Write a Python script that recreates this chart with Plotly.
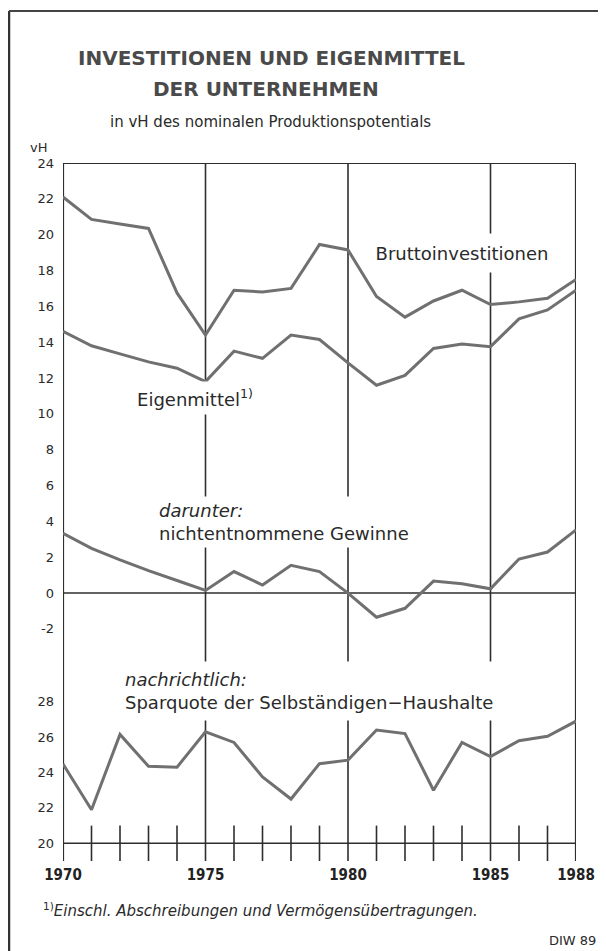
import plotly.graph_objects as go

years = [1970, 1971, 1972, 1973, 1974, 1975, 1976, 1977, 1978, 1979,
         1980, 1981, 1982, 1983, 1984, 1985, 1986, 1987, 1988]
brutto = [22.1, 20.85, 20.6, 20.35, 16.75, 14.4, 16.9, 16.8, 17.0, 19.45,
          19.15, 16.55, 15.4, 16.3, 16.9, 16.1, 16.25, 16.45, 17.5]
eigen = [14.6, 13.8, 13.35, 12.9, 12.55, 11.8, 13.5, 13.1, 14.4, 14.15,
         12.85, 11.6, 12.15, 13.65, 13.9, 13.75, 15.3, 15.8, 16.9]
gewinne = [3.33, 2.5, 1.85, 1.25, 0.7, 0.15, 1.2, 0.45, 1.55, 1.2,
           0.0, -1.35, -0.85, 0.67, 0.52, 0.24, 1.9, 2.29, 3.53]
sparquote = [24.48, 21.9, 26.15, 24.35, 24.3, 26.3, 25.7, 23.75, 22.5, 24.5,
             24.7, 26.4, 26.2, 23.0, 25.7, 24.9, 25.8, 26.05, 26.9]

xtick_vals = [1970, 1975, 1980, 1985, 1988]
xtick_text = ["1970", "1975", "1980", "1985", "1988"]
upper_ticks = [-2, 0, 2, 4, 6, 8, 10, 12, 14, 16, 18, 20, 22, 24]
lower_ticks = [20, 22, 24, 26, 28]

W, H = 606, 951
OFF = 8  # page body margin
ML, MT = 55, 155
PW, PH = 513, 698
MR, MB = W - ML - PW, H - MT - PH
SPLIT = 0.2822

def px(x):
    return (x - OFF - ML) / PW

def py(y):
    return (H - MB - (y - OFF)) / PH

LINE = "#707070"
GRID = "#2e2e2e"
TXT = "#2a2a2a"
FONT = "DejaVu Sans"

fig = go.Figure()
for vals, ax in [(brutto, "y2"), (eigen, "y2"), (gewinne, "y2"), (sparquote, "y")]:
    fig.add_trace(go.Scatter(x=years, y=vals, yaxis=ax, mode="lines",
                             line=dict(color=LINE, width=3), showlegend=False,
                             hoverinfo="skip"))

shapes = []
for yr, w in [(1970, 2.2), (1988, 2.2), (1975, 1.6), (1980, 1.6), (1985, 1.6)]:
    shapes.append(dict(type="line", xref="x", yref="paper", x0=yr, x1=yr, y0=0, y1=1,
                       line=dict(color=GRID, width=w), layer="below"))
for v, w in [(24, 1.8), (0, 1.6)]:
    shapes.append(dict(type="line", xref="x", yref="y2", x0=1970, x1=1988, y0=v, y1=v,
                       line=dict(color=GRID, width=w), layer="below"))
shapes.append(dict(type="line", xref="x", yref="y", x0=1970, x1=1988, y0=20, y1=20,
                   line=dict(color=GRID, width=1.6), layer="below"))
for yr in years:
    if yr not in xtick_vals:
        shapes.append(dict(type="line", xref="x", yref="y", x0=yr, x1=yr, y0=19.0, y1=21.0,
                           line=dict(color=GRID, width=1.6), layer="below"))
shapes.append(dict(type="line", xref="paper", yref="paper", x0=px(9), x1=px(9),
                   y0=py(11), y1=py(960), line=dict(color="#333", width=2.5)))
shapes.append(dict(type="line", xref="paper", yref="paper", x0=px(9), x1=px(604),
                   y0=py(11), y1=py(11), line=dict(color="#444", width=2)))

ann = []
def label(text, x, y, size=18, xanchor="center", w=None, h=None, bg=None, align="center",
          font=FONT, color=TXT):
    d = dict(xref="paper", yref="paper", x=px(x), y=py(y), text=text, showarrow=False,
             xanchor=xanchor, yanchor="middle", align=align,
             font=dict(family=font, size=size, color=color), borderpad=0)
    if w:
        d["width"] = w
    if h:
        d["height"] = h
    if bg:
        d["bgcolor"] = bg
    ann.append(d)

label("<b>INVESTITIONEN UND EIGENMITTEL</b>", 271, 58, size=20, color="#4a4a4a")
label("<b>DER UNTERNEHMEN</b>", 266, 89, size=20, color="#4a4a4a")
label("in vH des nominalen Produktionspotentials", 270, 122, size=15)
label("vH", 38, 148, size=13)
label("Bruttoinvestitionen", 462, 253, w=180, h=38, bg="white")
label("Eigenmittel<sup>1)</sup>", 195, 398, w=140, h=32, bg="white")
label("<i>darunter:</i><br>nichtentnommene Gewinne", 158, 522, xanchor="left",
      w=285, h=50, bg="white", align="left")
label("<i>nachrichtlich:</i><br>Sparquote der Selbständigen\u2212Haushalte", 124, 691,
      xanchor="left", w=400, h=58, bg="white", align="left")
label("<sup>1)</sup><i>Einschl. Abschreibungen und Vermögensübertragungen.</i>", 42, 910,
      size=15, xanchor="left")
label("DIW 89", 597, 940, size=13, xanchor="right")

fig.update_layout(
    width=W, height=H, margin=dict(l=ML, r=MR, t=MT, b=MB),
    paper_bgcolor="white", plot_bgcolor="white",
    shapes=shapes, annotations=ann,
    xaxis=dict(range=[1970, 1988], showgrid=False, zeroline=False, showline=False,
               tickvals=xtick_vals, ticktext=xtick_text, ticks="", ticklabelstandoff=3,
               tickfont=dict(family="DejaVu Sans Condensed", size=15, color="#222",
                             weight="bold"),
               anchor="y"),
    yaxis=dict(domain=[0, SPLIT], range=[19.0, 30.13], showgrid=False, zeroline=False,
               showline=False, tickvals=lower_ticks, ticktext=[str(v) for v in lower_ticks],
               ticks="", ticklabelstandoff=8,
               tickfont=dict(family=FONT, size=13, color=TXT)),
    yaxis2=dict(domain=[SPLIT, 1], range=[-3.96, 24], showgrid=False, zeroline=False,
                showline=False, tickvals=upper_ticks,
                ticktext=[str(v) for v in upper_ticks], ticks="", ticklabelstandoff=8,
                tickfont=dict(family=FONT, size=13, color=TXT), anchor="x"),
)

fig.write_html("out.html")
